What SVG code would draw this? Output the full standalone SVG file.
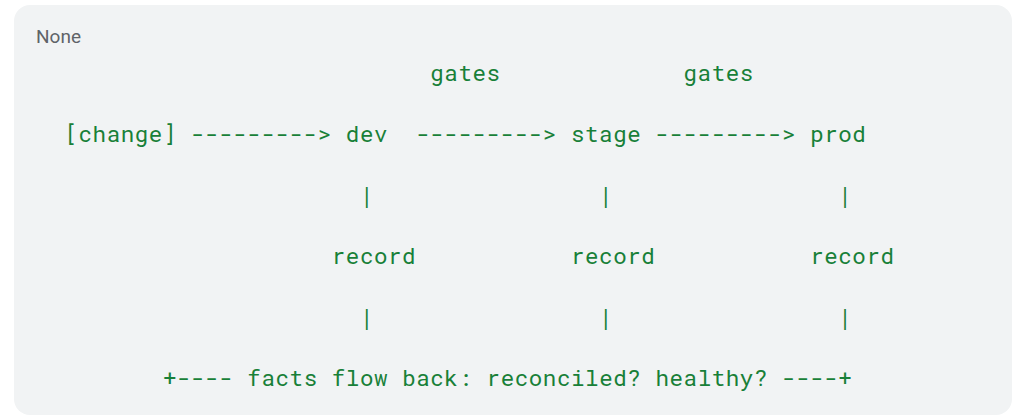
<svg xmlns="http://www.w3.org/2000/svg" width="1024" height="420" viewBox="0 0 1024 420">
  <style>
    .code { font-family: "Roboto Mono", "DejaVu Sans Mono", "Liberation Mono", monospace; font-size: 22.5px; font-weight: 400; letter-spacing: 0.57px; fill: #188038; }
    .lang { font-family: Roboto, "Noto Sans", "Liberation Sans", sans-serif; font-size: 19px; fill: #5f6368; }
  </style>
  <rect x="0" y="0" width="1024" height="420" fill="#ffffff"/>
  <rect x="14" y="5" width="998" height="410" rx="16" ry="16" fill="#f1f3f4"/>
  <text class="lang" x="36" y="43">None</text>

  <g id="labels">
    <text class="code" x="430.25" y="81">gates</text>
    <text class="code" x="683.51" y="81">gates</text>
  </g>

  <g id="node-change"><text class="code" x="64.43" y="142">[change]</text></g>
  <g id="node-dev"><text class="code" x="345.83" y="142">dev</text></g>
  <g id="node-stage"><text class="code" x="570.95" y="142">stage</text></g>
  <g id="node-prod"><text class="code" x="810.14" y="142">prod</text></g>

  <g id="node-record-dev"><text class="code" x="331.76" y="264">record</text></g>
  <g id="node-record-stage"><text class="code" x="570.95" y="264">record</text></g>
  <g id="node-record-prod"><text class="code" x="810.14" y="264">record</text></g>

  <g id="connectors">
    <text class="code" x="191.06" y="142">---------&gt;</text>
    <text class="code" x="416.18" y="142">---------&gt;</text>
    <text class="code" x="655.37" y="142">---------&gt;</text>
    <text class="code" x="359.9" y="203">|</text>
    <text class="code" x="599.09" y="203">|</text>
    <text class="code" x="838.28" y="203">|</text>
    <text class="code" x="359.9" y="325">|</text>
    <text class="code" x="599.09" y="325">|</text>
    <text class="code" x="838.28" y="325">|</text>
    <text class="code" x="162.92" y="386" xml:space="preserve">+---- facts flow back: reconciled? healthy? ----+</text>
  </g>
</svg>
